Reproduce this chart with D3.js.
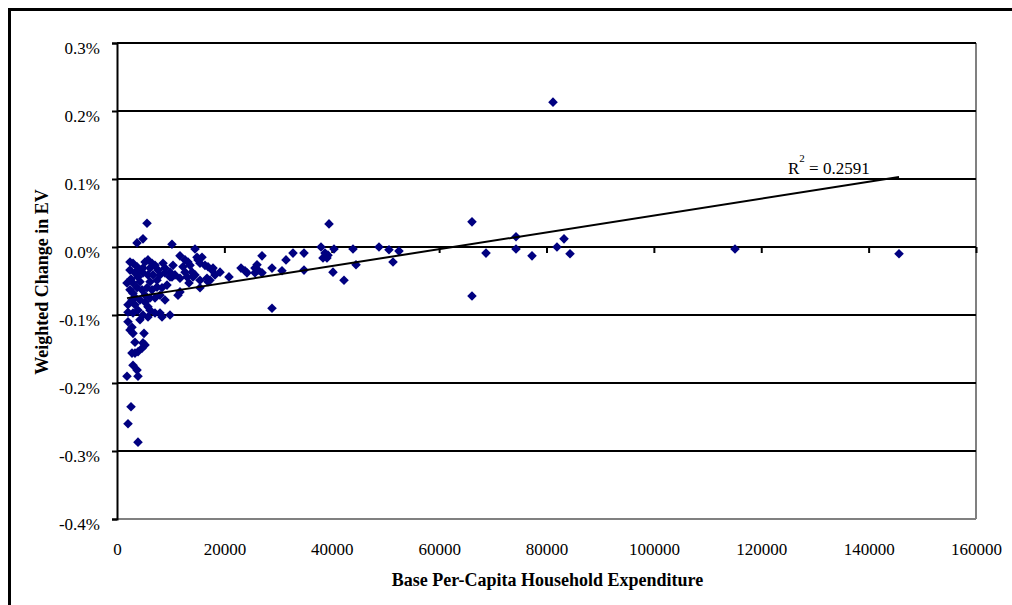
<!DOCTYPE html>
<html>
<head>
<meta charset="utf-8">
<script src="https://cdn.jsdelivr.net/npm/d3@7"></script>
<style>
  html, body { margin: 0; padding: 0; background: #fff; }
  svg { display: block; }
  text { font-family: "Liberation Serif", "Times New Roman", serif; fill: #000; }
</style>
</head>
<body>
<svg id="chart" width="1012" height="605"></svg>
<script>
// Base per-capita household expenditure (x)
const expenditure = [
  5590, 4840, 3730, 10240, 2420, 2980, 3730, 4280, 4840, 5770,
  6520, 6150, 7080, 7640, 8570, 8940, 3350, 3910, 4840, 5770,
  6710, 8940, 9870, 10800, 2420, 2980, 3730, 4660, 5590, 6520,
  7450, 8380, 9310, 3350, 4280, 5220, 5770, 2790, 2050, 2980,
  3910, 4840, 5770, 7080, 8380, 9870, 2050, 2790, 2420, 2980,
  3350, 5030, 4840, 4660, 3910, 3350, 2790, 5220, 2980, 3730,
  3910, 1860, 2610, 2050, 3910, 6150, 8010, 1860, 2610, 4280,
  6150, 7450, 8010, 8940, 7080, 2050, 2420, 5220, 8010, 3350,
  4280, 2980, 5220, 6150,
  11730, 12670, 13220, 13600, 14530, 14900, 15090, 15460, 16390, 16950,
  10430, 9870, 10240, 12290, 12670, 13040, 13970, 14530, 13410, 11360,
  11730, 15460, 16760, 17320, 19190, 18250, 17880, 17690, 15830, 15460,
  16950, 20860, 23100, 23840, 24210, 14160, 11730,
  25700, 26080, 26260, 25700, 27010, 27010, 28870, 30730, 28870, 31480,
  32780, 34830, 34830, 38000, 38740, 39300, 38370, 39110, 40420, 40230,
  42280, 43960, 44520, 39490, 48800, 50660, 52520, 51410,
  66120, 66120, 68730, 74320, 74320, 77300, 81950, 83260, 84380, 81210,
  115110, 145660
];
// Weighted change in EV, in percent (y)
const weightedChange = [
  0.035, 0.012, 0.006, 0.004, -0.022, -0.024, -0.029, -0.034, -0.031, -0.019,
  -0.024, -0.031, -0.027, -0.034, -0.024, -0.031, -0.038, -0.044, -0.038, -0.041,
  -0.041, -0.038, -0.044, -0.041, -0.063, -0.068, -0.060, -0.063, -0.060, -0.063,
  -0.059, -0.060, -0.056, -0.074, -0.078, -0.081, -0.088, -0.078, -0.096, -0.097,
  -0.093, -0.100, -0.103, -0.097, -0.103, -0.100, -0.110, -0.118, -0.122, -0.127,
  -0.140, -0.127, -0.141, -0.149, -0.154, -0.156, -0.156, -0.144, -0.174, -0.181,
  -0.190, -0.190, -0.235, -0.260, -0.287, -0.093, -0.097, -0.053, -0.047, -0.051,
  -0.051, -0.049, -0.071, -0.078, -0.075, -0.085, -0.034, -0.022, -0.041, -0.085,
  -0.107, -0.053, -0.071, -0.075,
  -0.013, -0.019, -0.022, -0.027, -0.003, -0.015, -0.019, -0.024, -0.027, -0.029,
  -0.027, -0.037, -0.044, -0.029, -0.037, -0.044, -0.037, -0.041, -0.053, -0.071,
  -0.066, -0.060, -0.046, -0.049, -0.037, -0.041, -0.031, -0.034, -0.015, -0.049,
  -0.051, -0.044, -0.031, -0.035, -0.038, -0.044, -0.046,
  -0.031, -0.026, -0.034, -0.038, -0.038, -0.013, -0.031, -0.035, -0.090, -0.019,
  -0.009, -0.009, -0.034, 0.000, -0.009, -0.012, -0.016, -0.016, -0.003, -0.037,
  -0.049, -0.003, -0.026, 0.034, 0.000, -0.004, -0.006, -0.022,
  0.037, -0.072, -0.009, 0.015, -0.003, -0.013, 0.000, 0.012, -0.010, 0.213,
  -0.003, -0.010
];
const xTicks = [0, 20000, 40000, 60000, 80000, 100000, 120000, 140000, 160000];
const yTicks = [-0.4, -0.3, -0.2, -0.1, 0.0, 0.1, 0.2, 0.3];
const trendIntercept = -0.0775;   // percent
const trendSlope = 1.238e-6;      // percent per unit of expenditure
const rSquaredText = "0.2591";
const xTitle = "Base Per-Capita Household Expenditure";
const yTitle = "Weighted Change in EV";

(function () {
const svg = d3.select("#chart");
const pLeft = 117, pRight = 976, pTop = 43, pBottom = 519;
const serif = '"Liberation Serif", "Times New Roman", serif';

const x = d3.scaleLinear().domain([0, 160000]).range([pLeft, pRight]);
const y = d3.scaleLinear().domain([-0.4, 0.3]).range([pBottom, pTop]);

// outer frame (runs off the right/bottom edge)
svg.append("rect").attr("x", 9.5).attr("y", 9.5).attr("width", 1030).attr("height", 640)
  .attr("fill", "#fff").attr("stroke", "#000").attr("stroke-width", 3);

// plot border (gray right/bottom)
svg.append("line").attr("x1", pRight).attr("x2", pRight).attr("y1", pTop).attr("y2", pBottom)
  .attr("stroke", "#808080").attr("stroke-width", 2);
svg.append("line").attr("x1", pLeft).attr("x2", pRight).attr("y1", pBottom).attr("y2", pBottom)
  .attr("stroke", "#808080").attr("stroke-width", 2);

// gridlines
svg.append("g").selectAll("line").data(yTicks.filter(v => v > -0.4)).join("line")
  .attr("x1", pLeft).attr("x2", pRight)
  .attr("y1", d => Math.round(y(d))).attr("y2", d => Math.round(y(d)))
  .attr("stroke", "#000").attr("stroke-width", 2);

// y axis
const yAxis = d3.axisLeft(y).tickValues(yTicks).tickSize(5).tickPadding(12)
  .tickFormat(d => d.toFixed(1).replace("\u2212", "-") + "%");
const gy = svg.append("g").attr("transform", `translate(${pLeft},0)`).call(yAxis);
gy.select(".domain").attr("stroke", "#000").attr("stroke-width", 2);
gy.selectAll(".tick line").attr("stroke", "#000").attr("stroke-width", 2);
gy.selectAll(".tick text").attr("font-size", 17).attr("font-family", serif)
  .attr("dy", "0.62em").attr("fill", "#000");

// x axis ticks on the zero line
const xAxisTicks = d3.axisBottom(x).tickValues(xTicks.filter(v => v > 0)).tickSize(6).tickFormat("");
const gxt = svg.append("g").attr("transform", `translate(0,${y(0)})`).call(xAxisTicks);
gxt.select(".domain").remove();
gxt.selectAll(".tick line").attr("stroke", "#000").attr("stroke-width", 2);

// x axis labels at the bottom
const xAxisLabels = d3.axisBottom(x).tickValues(xTicks).tickSize(0).tickPadding(24)
  .tickFormat(d => String(d));
const gx = svg.append("g").attr("transform", `translate(0,${pBottom})`).call(xAxisLabels);
gx.select(".domain").remove();
gx.selectAll(".tick text").attr("font-size", 17).attr("font-family", serif).attr("fill", "#000");

// points (diamonds)
const pts = expenditure.map((v, i) => ({ x: v, y: weightedChange[i] }));
const diamond = d3.symbol().type(d3.symbolSquare).size(46);
svg.append("g").selectAll("path").data(pts).join("path")
  .attr("d", diamond)
  .attr("transform", d => `translate(${x(d.x)},${y(d.y)}) rotate(45)`)
  .attr("fill", "#000080");

// trend line
const xMin = d3.min(expenditure), xMax = d3.max(expenditure);
svg.append("line")
  .attr("x1", x(xMin)).attr("y1", y(trendIntercept + trendSlope * xMin))
  .attr("x2", x(xMax)).attr("y2", y(trendIntercept + trendSlope * xMax))
  .attr("stroke", "#000").attr("stroke-width", 2);

// R² label
const rl = svg.append("text").attr("x", 788).attr("y", 174).attr("font-size", 17);
rl.append("tspan").text("R");
rl.append("tspan").attr("dy", -12).attr("font-size", 11).text("2");
rl.append("tspan").attr("dy", 12).text(" = " + rSquaredText);

// axis titles
svg.append("text").attr("x", (pLeft + pRight) / 2 + 1).attr("y", 586)
  .attr("text-anchor", "middle").attr("font-weight", "bold").attr("font-size", 18).text(xTitle);
svg.append("text").attr("transform", `translate(48,${(pTop + pBottom) / 2 + 1}) rotate(-90)`)
  .attr("text-anchor", "middle").attr("font-weight", "bold").attr("font-size", 18).text(yTitle);
})();
</script>
</body>
</html>
